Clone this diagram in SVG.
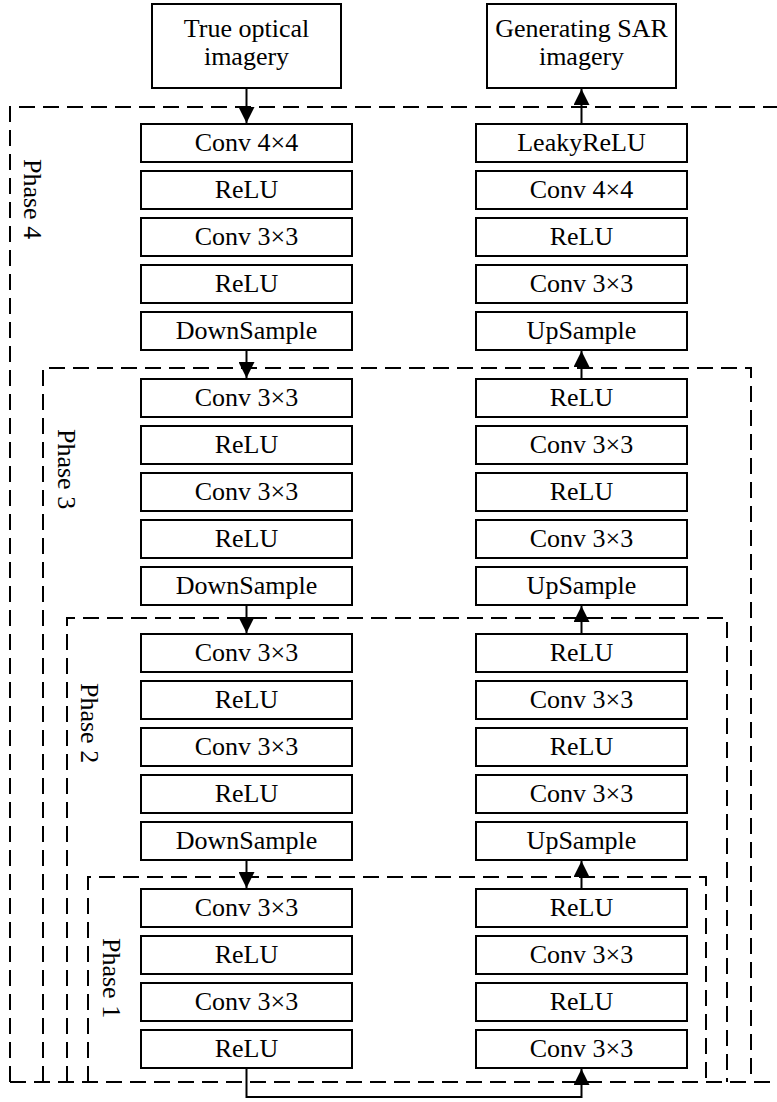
<svg xmlns="http://www.w3.org/2000/svg" width="777" height="1102" viewBox="0 0 777 1102">
<style>
.box{fill:#fff;stroke:#000;stroke-width:2}
.t{font-family:"Liberation Serif","Times New Roman",serif;font-size:26px;fill:#000;text-anchor:middle}
.ph{font-family:"Liberation Serif","Times New Roman",serif;font-size:26px;fill:#000}
.dash{fill:none;stroke:#000;stroke-width:2;stroke-dasharray:16 8}
.con{fill:none;stroke:#000;stroke-width:2}
</style>
<defs>
<marker id="ah" markerUnits="userSpaceOnUse" markerWidth="16" markerHeight="16" viewBox="0 0 16 16" refX="16" refY="8" orient="auto">
<path d="M0,0 L16,8 L0,16 Z" fill="#000"/>
</marker>
</defs>
<rect x="0" y="0" width="777" height="1102" fill="#fff"/>

<g id="phases">
<g id="phase4"><path class="dash" d="M10,1082 V107 H790"/><text class="ph" transform="translate(24,159) rotate(90)">Phase 4</text></g>
<g id="phase3"><path class="dash" d="M43,1082 V368 H751 V1082"/><text class="ph" transform="translate(58,429) rotate(90)">Phase 3</text></g>
<g id="phase2"><path class="dash" d="M67,1082 V618 H727 V1082"/><text class="ph" transform="translate(81,683) rotate(90)">Phase 2</text></g>
<g id="phase1"><path class="dash" d="M88,1082 V877 H706 V1082"/><text class="ph" transform="translate(103,938) rotate(90)">Phase 1</text></g>
<path class="dash" d="M10,1082 H777"/>
</g>

<g id="input"><rect class="box" x="152" y="4" width="189" height="84"/><text class="t" x="246.5" y="37">True optical</text><text class="t" x="246.5" y="65">imagery</text></g>
<g id="output"><rect class="box" x="487" y="4" width="189" height="84"/><text class="t" x="581.5" y="37">Generating SAR</text><text class="t" x="581.5" y="65">imagery</text></g>

<g id="enc4-1"><rect class="box" x="141" y="124" width="211" height="38"/><text class="t" x="246.5" y="151">Conv 4×4</text></g>
<g id="enc4-2"><rect class="box" x="141" y="171" width="211" height="38"/><text class="t" x="246.5" y="198">ReLU</text></g>
<g id="enc4-3"><rect class="box" x="141" y="218" width="211" height="38"/><text class="t" x="246.5" y="245">Conv 3×3</text></g>
<g id="enc4-4"><rect class="box" x="141" y="265" width="211" height="38"/><text class="t" x="246.5" y="292">ReLU</text></g>
<g id="enc4-5"><rect class="box" x="141" y="312" width="211" height="38"/><text class="t" x="246.5" y="339">DownSample</text></g>

<g id="enc3-1"><rect class="box" x="141" y="379" width="211" height="38"/><text class="t" x="246.5" y="406">Conv 3×3</text></g>
<g id="enc3-2"><rect class="box" x="141" y="426" width="211" height="38"/><text class="t" x="246.5" y="453">ReLU</text></g>
<g id="enc3-3"><rect class="box" x="141" y="473" width="211" height="38"/><text class="t" x="246.5" y="500">Conv 3×3</text></g>
<g id="enc3-4"><rect class="box" x="141" y="520" width="211" height="38"/><text class="t" x="246.5" y="547">ReLU</text></g>
<g id="enc3-5"><rect class="box" x="141" y="567" width="211" height="38"/><text class="t" x="246.5" y="594">DownSample</text></g>

<g id="enc2-1"><rect class="box" x="141" y="634" width="211" height="38"/><text class="t" x="246.5" y="661">Conv 3×3</text></g>
<g id="enc2-2"><rect class="box" x="141" y="681" width="211" height="38"/><text class="t" x="246.5" y="708">ReLU</text></g>
<g id="enc2-3"><rect class="box" x="141" y="728" width="211" height="38"/><text class="t" x="246.5" y="755">Conv 3×3</text></g>
<g id="enc2-4"><rect class="box" x="141" y="775" width="211" height="38"/><text class="t" x="246.5" y="802">ReLU</text></g>
<g id="enc2-5"><rect class="box" x="141" y="822" width="211" height="38"/><text class="t" x="246.5" y="849">DownSample</text></g>

<g id="enc1-1"><rect class="box" x="141" y="889" width="211" height="38"/><text class="t" x="246.5" y="916">Conv 3×3</text></g>
<g id="enc1-2"><rect class="box" x="141" y="936" width="211" height="38"/><text class="t" x="246.5" y="963">ReLU</text></g>
<g id="enc1-3"><rect class="box" x="141" y="983" width="211" height="38"/><text class="t" x="246.5" y="1010">Conv 3×3</text></g>
<g id="enc1-4"><rect class="box" x="141" y="1030" width="211" height="38"/><text class="t" x="246.5" y="1057">ReLU</text></g>

<g id="dec4-1"><rect class="box" x="476" y="124" width="211" height="38"/><text class="t" x="581.5" y="151">LeakyReLU</text></g>
<g id="dec4-2"><rect class="box" x="476" y="171" width="211" height="38"/><text class="t" x="581.5" y="198">Conv 4×4</text></g>
<g id="dec4-3"><rect class="box" x="476" y="218" width="211" height="38"/><text class="t" x="581.5" y="245">ReLU</text></g>
<g id="dec4-4"><rect class="box" x="476" y="265" width="211" height="38"/><text class="t" x="581.5" y="292">Conv 3×3</text></g>
<g id="dec4-5"><rect class="box" x="476" y="312" width="211" height="38"/><text class="t" x="581.5" y="339">UpSample</text></g>

<g id="dec3-1"><rect class="box" x="476" y="379" width="211" height="38"/><text class="t" x="581.5" y="406">ReLU</text></g>
<g id="dec3-2"><rect class="box" x="476" y="426" width="211" height="38"/><text class="t" x="581.5" y="453">Conv 3×3</text></g>
<g id="dec3-3"><rect class="box" x="476" y="473" width="211" height="38"/><text class="t" x="581.5" y="500">ReLU</text></g>
<g id="dec3-4"><rect class="box" x="476" y="520" width="211" height="38"/><text class="t" x="581.5" y="547">Conv 3×3</text></g>
<g id="dec3-5"><rect class="box" x="476" y="567" width="211" height="38"/><text class="t" x="581.5" y="594">UpSample</text></g>

<g id="dec2-1"><rect class="box" x="476" y="634" width="211" height="38"/><text class="t" x="581.5" y="661">ReLU</text></g>
<g id="dec2-2"><rect class="box" x="476" y="681" width="211" height="38"/><text class="t" x="581.5" y="708">Conv 3×3</text></g>
<g id="dec2-3"><rect class="box" x="476" y="728" width="211" height="38"/><text class="t" x="581.5" y="755">ReLU</text></g>
<g id="dec2-4"><rect class="box" x="476" y="775" width="211" height="38"/><text class="t" x="581.5" y="802">Conv 3×3</text></g>
<g id="dec2-5"><rect class="box" x="476" y="822" width="211" height="38"/><text class="t" x="581.5" y="849">UpSample</text></g>

<g id="dec1-1"><rect class="box" x="476" y="889" width="211" height="38"/><text class="t" x="581.5" y="916">ReLU</text></g>
<g id="dec1-2"><rect class="box" x="476" y="936" width="211" height="38"/><text class="t" x="581.5" y="963">Conv 3×3</text></g>
<g id="dec1-3"><rect class="box" x="476" y="983" width="211" height="38"/><text class="t" x="581.5" y="1010">ReLU</text></g>
<g id="dec1-4"><rect class="box" x="476" y="1030" width="211" height="38"/><text class="t" x="581.5" y="1057">Conv 3×3</text></g>

<g id="connectors">
<path class="con" d="M246.5,88 V123" marker-end="url(#ah)"/>
<path class="con" d="M246.5,350 V378" marker-end="url(#ah)"/>
<path class="con" d="M246.5,605 V633" marker-end="url(#ah)"/>
<path class="con" d="M246.5,860 V888" marker-end="url(#ah)"/>
<path class="con" d="M246.5,1068 V1097 H581.5 V1069" marker-end="url(#ah)"/>
<path class="con" d="M581.5,889 V861" marker-end="url(#ah)"/>
<path class="con" d="M581.5,634 V606" marker-end="url(#ah)"/>
<path class="con" d="M581.5,379 V351" marker-end="url(#ah)"/>
<path class="con" d="M581.5,124 V89" marker-end="url(#ah)"/>
</g>
</svg>
